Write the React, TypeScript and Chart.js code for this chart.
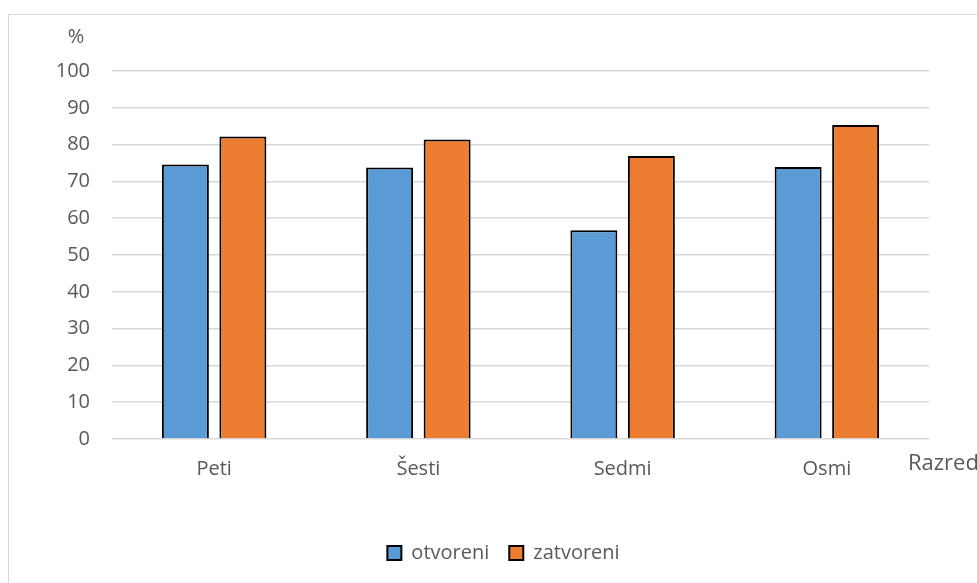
import React, { useEffect, useRef } from "react";
import { Chart, registerables } from "chart.js";

Chart.register(...registerables);

const categories = ["Peti", "Šesti", "Sedmi", "Osmi"];
const otvoreni = [74.6, 73.8, 56.7, 73.9];
const zatvoreni = [82.2, 81.4, 76.9, 85.3];
const seriesNames = ["otvoreni", "zatvoreni"];
const yUnit = "%";
const xTitle = "Razred";

const FONT = "'Open Sans', sans-serif";
const TEXT = "#595959";
const GRID = "#D9D9D9";

const decorPlugin = {
  id: "decor",
  afterUpdate(chart: any) {
    const lg = chart.legend;
    if (lg) {
      lg.left += 39;
      lg.right += 39;
      lg.adjustHitBoxes();
    }
  },
  afterDraw(chart: any) {
    const ctx = chart.ctx;
    ctx.save();
    ctx.strokeStyle = GRID;
    ctx.lineWidth = 1;
    ctx.strokeRect(8.5, 14.5, 1200, 800);
    ctx.fillStyle = TEXT;
    ctx.textBaseline = "middle";
    ctx.textAlign = "center";
    ctx.font = `20px ${FONT}`;
    ctx.fillText(yUnit, 76, 37);
    ctx.textAlign = "left";
    ctx.font = `22px ${FONT}`;
    ctx.fillText(xTitle, 908, 464);
    ctx.restore();
  },
};

export default function App() {
  const ref = useRef<HTMLCanvasElement>(null);
  useEffect(() => {
    if (!ref.current) return;
    const chart = new Chart(ref.current, {
      type: "bar",
      data: {
        labels: categories,
        datasets: [
          {
            label: seriesNames[0],
            data: otvoreni,
            backgroundColor: "#5B9BD5",
            borderColor: "#000000",
            borderWidth: 2,
          },
          {
            label: seriesNames[1],
            data: zatvoreni,
            backgroundColor: "#ED7D31",
            borderColor: "#000000",
            borderWidth: 2,
          },
        ],
      },
      options: {
        animation: false,
        responsive: true,
        maintainAspectRatio: false,
        datasets: {
          bar: { categoryPercentage: 0.563, barPercentage: 0.817 },
        },
        layout: { padding: { left: 0, top: 71, right: 48, bottom: 10 } },
        plugins: {
          legend: {
            position: "bottom",
            labels: {
              boxWidth: 14,
              boxHeight: 14,
              padding: 20,
              color: TEXT,
              font: { family: FONT, size: 20 },
            },
          },
          tooltip: { enabled: false },
        },
        scales: {
          x: {
            grid: { display: false, drawTicks: false },
            border: { display: false },
            ticks: { color: TEXT, font: { family: FONT, size: 20 }, padding: 18 },
            afterFit(scale: any) {
              scale.height = 84;
            },
          },
          y: {
            min: 0,
            max: 100,
            ticks: { stepSize: 10, color: TEXT, font: { family: FONT, size: 20 }, padding: 22 },
            grid: { color: GRID, lineWidth: 1.5, drawTicks: false },
            border: { display: false },
            afterFit(scale: any) {
              scale.width = 112;
            },
          },
        },
      },
      plugins: [decorPlugin],
    });
    return () => chart.destroy();
  }, []);
  return (
    <div style={{ position: "absolute", left: 0, top: 0, width: 977, height: 583, background: "#fff" }}>
      <canvas ref={ref} />
    </div>
  );
}
